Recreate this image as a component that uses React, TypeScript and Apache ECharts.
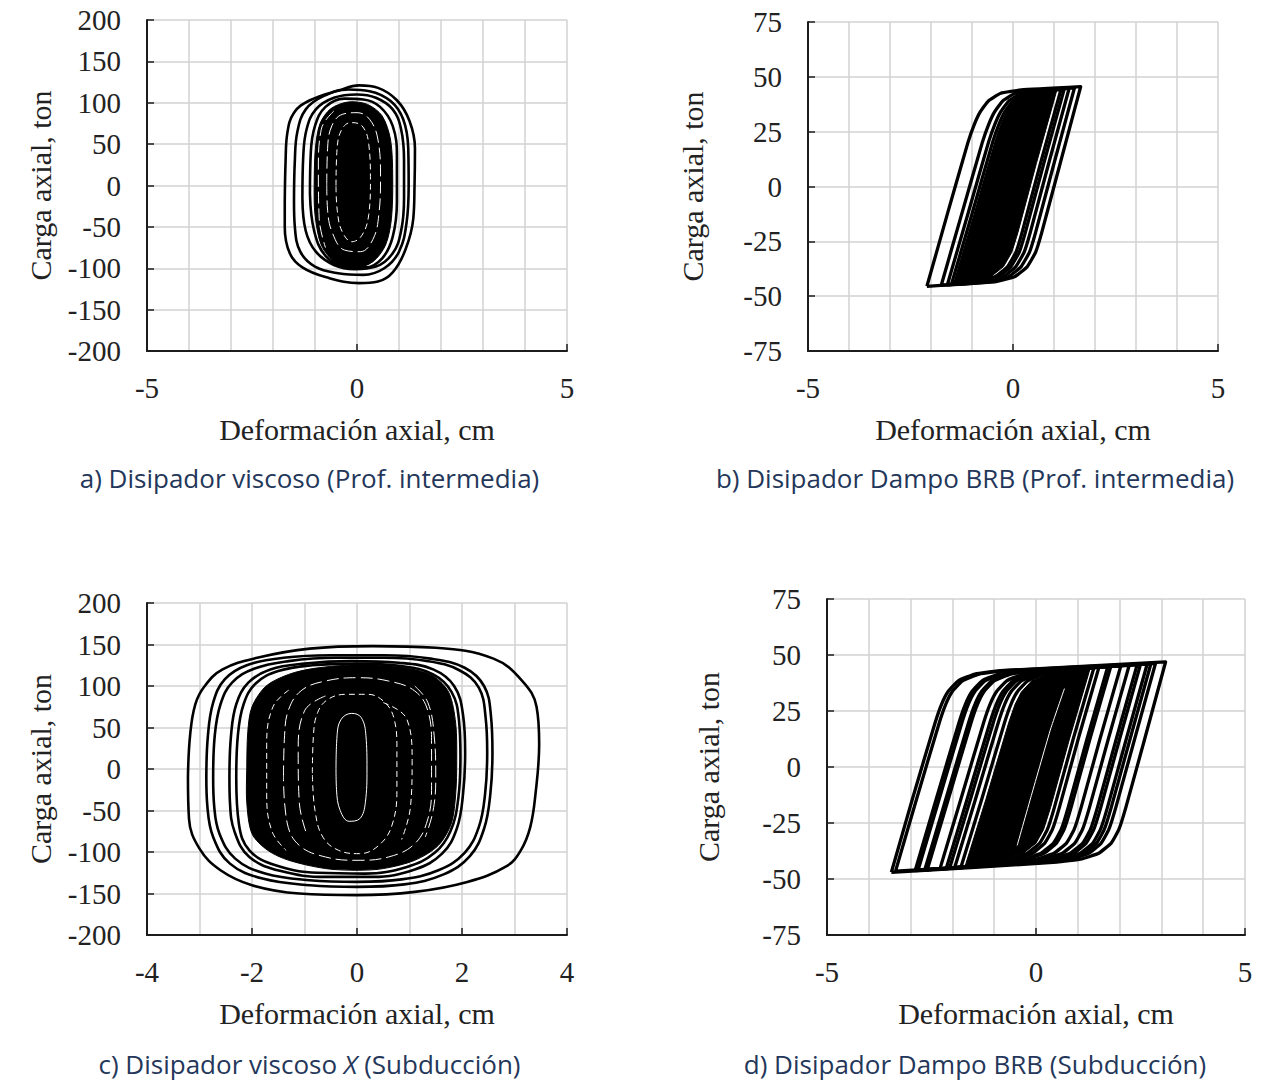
import React, { useEffect, useRef } from "react";
import * as echarts from "echarts";

// ---------- Panel a: Disipador viscoso (Prof. intermedia) ----------
const xTicksA = [-5, 0, 5];
const yTicksA = [-200, -150, -100, -50, 0, 50, 100, 150, 200];
const loopA1 = [[-1.72,-20],[-1.7,30],[-1.66,63],[-1.5,88],[-1.12,103],[-0.43,115],[0.05,121],[0.5,118],[0.95,103],[1.25,78],[1.38,45],[1.37,0],[1.34,-40],[1.15,-78],[0.85,-105],[0.5,-116],[0.05,-118],[-0.73,-111],[-1.3,-99],[-1.6,-82],[-1.72,-50],[-1.72,-20]];
const loopA2 = [[-1.5,-20],[-1.48,30],[-1.42,65],[-1.22,92],[-0.8,108],[-0.2,116],[0.3,114],[0.8,102],[1.1,80],[1.22,45],[1.23,0],[1.18,-45],[1.0,-80],[0.65,-100],[0.15,-108],[-0.45,-106],[-1.0,-98],[-1.35,-80],[-1.48,-50],[-1.5,-20]];
const loopA3 = [[-1.3,-15],[-1.28,35],[-1.2,68],[-0.98,92],[-0.55,106],[0.0,110],[0.45,106],[0.85,92],[1.05,68],[1.12,30],[1.12,-15],[1.05,-55],[0.85,-82],[0.45,-98],[-0.05,-101],[-0.55,-96],[-0.98,-80],[-1.22,-55],[-1.3,-15]];
const loopA4 = [[-1.12,-10],[-1.1,40],[-1.0,72],[-0.75,95],[-0.3,105],[0.15,104],[0.55,95],[0.85,72],[0.95,35],[0.95,-20],[0.85,-62],[0.6,-88],[0.2,-99],[-0.3,-98],[-0.75,-85],[-1.02,-55],[-1.12,-10]];
const coreA = [[-1.02,0],[-0.99,45],[-0.88,75],[-0.62,93],[-0.2,101],[0.25,98],[0.6,84],[0.8,55],[0.85,10],[0.82,-40],[0.68,-72],[0.38,-92],[-0.05,-100],[-0.5,-94],[-0.85,-72],[-1.0,-35]];
const whiteA1 = [[-0.72,0],[-0.7,45],[-0.6,72],[-0.35,86],[0.0,88],[0.3,80],[0.5,55],[0.56,10],[0.52,-35],[0.38,-65],[0.08,-80],[-0.3,-78],[-0.58,-58],[-0.7,-30],[-0.72,0]];
const whiteA2 = [[-0.5,0],[-0.48,40],[-0.38,66],[-0.15,76],[0.12,72],[0.28,50],[0.32,5],[0.28,-35],[0.12,-60],[-0.12,-68],[-0.36,-55],[-0.47,-30],[-0.5,0]];
const whiteA3 = [[-0.55,90],[-0.85,68],[-0.92,20],[-0.9,-40],[-0.75,-75]];

// ---------- Panel b: Disipador Dampo BRB (Prof. intermedia) ----------
const xTicksB = [-5, 0, 5];
const yTicksB = [-75, -50, -25, 0, 25, 50, 75];
const loopB1 = [[-2.1,-45.5],[-1.6,-12.5],[-1.1,20],[-0.95,28],[-0.8,34],[-0.6,39],[-0.3,42.5],[0.2,44],[1.65,45.5],[1.15,10.5],[0.7,-21],[0.55,-30],[0.35,-36.5],[0.05,-41],[-0.45,-43.5],[-2.1,-45.5]];
const loopB2 = [[-1.75,-45],[-1.25,-12.5],[-0.75,20],[-0.6,28],[-0.45,34],[-0.25,39],[0.05,42.5],[0.55,44],[1.5,45],[1.0,10.5],[0.55,-21],[0.4,-30],[0.2,-36.5],[-0.1,-41],[-0.6,-43.5],[-1.75,-45]];
const loopB3 = [[-1.6,-44.8],[-1.1,-12.5],[-0.6,20],[-0.45,28],[-0.3,34],[-0.1,39],[0.2,42.5],[0.7,44],[1.37,44.8],[0.87,10.5],[0.42,-21],[0.27,-30],[0.07,-36.5],[-0.23,-41],[-0.73,-43.5],[-1.6,-44.8]];
const loopB4 = [[-1.5,-44.5],[-1.0,-12.5],[-0.5,20],[-0.35,28],[-0.2,34],[0.0,39],[0.3,42.5],[0.8,44],[1.25,44.5],[0.75,10.5],[0.3,-21],[0.15,-30],[-0.05,-36.5],[-0.35,-41],[-0.85,-43.5],[-1.5,-44.5]];
const loopB5 = [[-1.42,-44.2],[-0.92,-12.5],[-0.42,20],[-0.27,28],[-0.12,34],[0.08,39],[0.38,42.5],[0.88,43.8],[1.17,44.2],[0.67,10.5],[0.22,-21],[0.07,-30],[-0.13,-36.5],[-0.43,-41],[-0.93,-43.5],[-1.42,-44.2]];
const coreB = [[-1.42,-44],[-0.92,-12.5],[-0.42,20],[-0.27,28],[-0.12,34],[0.08,39],[0.38,42.5],[1.07,44],[0.57,10.5],[0.12,-21],[-0.03,-30],[-0.23,-36.5],[-0.53,-41],[-1.03,-43.5]];

// ---------- Panel c: Disipador viscoso X (Subducción) ----------
const xTicksC = [-4, -2, 0, 2, 4];
const yTicksC = [-200, -150, -100, -50, 0, 50, 100, 150, 200];
const loopC1 = [[-3.22,-10],[-3.18,40],[-3.08,78],[-2.9,100],[-2.56,120],[-1.9,134],[-0.9,145],[0.3,148],[1.5,146],[2.6,133],[3.15,106],[3.42,75],[3.47,30],[3.4,-30],[3.3,-70],[3.12,-98],[2.85,-117],[2.1,-136],[1.1,-148],[0.0,-152],[-1.1,-150],[-2.0,-140],[-2.6,-122],[-3.0,-96],[-3.2,-60],[-3.22,-10]];
const loopC2 = [[-2.87,-10],[-2.84,40],[-2.74,80],[-2.52,108],[-2.1,125],[-1.4,134],[-0.5,137],[0.5,137],[1.4,133],[2.05,122],[2.42,100],[2.55,65],[2.58,20],[2.54,-30],[2.42,-72],[2.15,-105],[1.65,-127],[0.9,-139],[0.0,-142],[-0.9,-140],[-1.8,-132],[-2.42,-114],[-2.74,-82],[-2.85,-45],[-2.87,-10]];
const loopC3 = [[-2.74,-10],[-2.71,40],[-2.6,78],[-2.38,104],[-1.95,121],[-1.3,130],[-0.4,134],[0.5,134],[1.35,130],[1.95,119],[2.32,98],[2.45,62],[2.48,20],[2.44,-30],[2.32,-70],[2.05,-101],[1.55,-122],[0.85,-133],[0.0,-136],[-0.9,-134],[-1.75,-126],[-2.32,-108],[-2.62,-78],[-2.72,-45],[-2.74,-10]];
const loopC4 = [[-2.43,-10],[-2.4,40],[-2.3,78],[-2.07,104],[-1.65,120],[-1.0,127],[-0.1,130],[0.8,128],[1.45,120],[1.85,100],[2.02,65],[2.06,20],[2.02,-30],[1.9,-72],[1.62,-102],[1.1,-121],[0.3,-130],[-0.6,-130],[-1.45,-123],[-2.05,-106],[-2.33,-76],[-2.42,-40],[-2.43,-10]];
const loopC5 = [[-2.3,-10],[-2.27,40],[-2.16,78],[-1.93,103],[-1.5,118],[-0.85,125],[0.0,127],[0.85,124],[1.45,114],[1.8,93],[1.94,60],[1.97,15],[1.93,-35],[1.78,-75],[1.48,-101],[0.95,-118],[0.15,-126],[-0.75,-125],[-1.55,-116],[-2.05,-98],[-2.25,-66],[-2.3,-10]];
const coreC = [[-2.1,0],[-2.08,45],[-2.0,75],[-1.73,100],[-1.3,114],[-0.84,121],[-0.2,125],[0.43,125],[1.0,121],[1.45,112],[1.75,92],[1.88,55],[1.9,10],[1.88,-30],[1.8,-65],[1.55,-92],[1.1,-110],[0.5,-120],[0.0,-122],[-0.6,-120],[-1.3,-110],[-1.7,-98],[-2.0,-78],[-2.1,-40]];
const whiteC1 = [[-1.4,-10],[-1.38,40],[-1.3,72],[-1.05,95],[-0.6,106],[0.0,110],[0.6,106],[1.1,94],[1.35,70],[1.42,30],[1.42,-20],[1.35,-60],[1.1,-90],[0.6,-106],[0.0,-110],[-0.6,-106],[-1.1,-92],[-1.33,-65],[-1.4,-10]];
const whiteC2 = [[-0.85,-5],[-0.83,40],[-0.75,68],[-0.55,84],[-0.2,90],[0.2,90],[0.5,82],[0.7,62],[0.76,25],[0.76,-25],[0.68,-65],[0.45,-90],[0.05,-102],[-0.35,-98],[-0.65,-82],[-0.8,-50],[-0.85,-5]];
const whiteC3 = [[-0.4,0],[-0.38,40],[-0.3,60],[-0.1,67],[0.08,62],[0.17,40],[0.19,0],[0.16,-40],[0.05,-60],[-0.15,-63],[-0.32,-50],[-0.39,-25],[-0.4,0]];
const whiteC4 = [[-1.3,95],[-1.6,75],[-1.72,30],[-1.72,-30],[-1.62,-75],[-1.35,-98]];
const whiteC5 = [[1.1,100],[1.35,80],[1.47,40],[1.5,-10],[1.45,-50],[1.3,-82]];
const whiteC6 = [[-0.6,88],[-1.0,70],[-1.12,20],[-1.1,-40],[-0.95,-80]];
const whiteC7 = [[0.5,80],[0.95,60],[1.05,10],[1.02,-45],[0.85,-85]];

// ---------- Panel d: Disipador Dampo BRB (Subducción) ----------
const xTicksD = [-5, 0, 5];
const yTicksD = [-75, -50, -25, 0, 25, 50, 75];
const loopD1 = [[-3.46,-47],[-2.96,-14.5],[-2.41,20],[-2.26,28],[-2.11,33.5],[-1.86,38.5],[-1.46,41.5],[-0.86,43],[3.1,46.9],[2.6,12.5],[2.15,-18],[1.98,-28],[1.8,-34],[1.5,-38.5],[1.1,-41],[0.5,-42.5],[-3.46,-47]];
const loopD2 = [[-3.36,-46.5],[-2.86,-14.5],[-2.31,20],[-2.16,28],[-2.01,33.5],[-1.76,38.5],[-1.36,41.5],[-0.76,43],[2.86,46.3],[2.36,12.5],[1.91,-18],[1.74,-28],[1.56,-34],[1.26,-38.5],[0.86,-41],[0.26,-42.5],[-3.36,-46.5]];
const loopD3 = [[-2.82,-46],[-2.32,-14.5],[-1.77,20],[-1.62,28],[-1.47,33.5],[-1.22,38.5],[-0.82,41.5],[-0.22,43],[2.66,46],[2.16,12.5],[1.71,-18],[1.54,-28],[1.36,-34],[1.06,-38.5],[0.66,-41],[0.06,-42.5],[-2.82,-46]];
const loopD4 = [[-2.6,-45.8],[-2.1,-14.5],[-1.55,20],[-1.4,28],[-1.25,33.5],[-1.0,38.5],[-0.6,41.5],[0.0,43],[2.42,45.7],[1.92,12.5],[1.47,-18],[1.3,-28],[1.12,-34],[0.82,-38.5],[0.42,-41],[-0.18,-42.5],[-2.6,-45.8]];
const loopD5 = [[-2.3,-45.6],[-1.8,-14.5],[-1.25,20],[-1.1,28],[-0.95,33.5],[-0.7,38.5],[-0.3,41.5],[0.3,43],[2.23,45.4],[1.73,12.5],[1.28,-18],[1.11,-28],[0.93,-34],[0.63,-38.5],[0.23,-41],[-0.37,-42.5],[-2.3,-45.6]];
const loopD6 = [[-2.15,-45.4],[-1.65,-14.5],[-1.1,20],[-0.95,28],[-0.8,33.5],[-0.55,38.5],[-0.15,41.5],[0.45,43],[2.03,45.2],[1.53,12.5],[1.08,-18],[0.91,-28],[0.73,-34],[0.43,-38.5],[0.03,-41],[-0.57,-42.5],[-2.15,-45.4]];
const loopD7 = [[-1.95,-45.2],[-1.45,-14.5],[-0.9,20],[-0.75,28],[-0.6,33.5],[-0.35,38.5],[0.05,41.5],[0.65,43],[1.79,45],[1.29,12.5],[0.84,-18],[0.67,-28],[0.49,-34],[0.19,-38.5],[-0.21,-41],[-0.81,-42.5],[-1.95,-45.2]];
const loopD8 = [[-1.8,-45],[-1.3,-14.5],[-0.75,20],[-0.6,28],[-0.45,33.5],[-0.2,38.5],[0.2,41.5],[0.8,43],[1.51,44.8],[1.01,12.5],[0.56,-18],[0.39,-28],[0.21,-34],[-0.09,-38.5],[-0.49,-41],[-1.09,-42.5],[-1.8,-45]];
const loopD9 = [[-1.55,-44.8],[-1.05,-14.5],[-0.5,20],[-0.35,28],[-0.2,33.5],[0.05,38.5],[0.45,41.5],[1.05,43],[1.39,44.6],[0.89,12.5],[0.44,-18],[0.27,-28],[0.09,-34],[-0.21,-38.5],[-0.61,-41],[-1.21,-42.5],[-1.55,-44.8]];
const loopD10 = [[-2.66,-45.9],[-2.16,-14.5],[-1.61,20],[-1.46,28],[-1.31,33.5],[-1.06,38.5],[-0.66,41.5],[-0.06,43],[2.5,45.8],[2.0,12.5],[1.55,-18],[1.38,-28],[1.2,-34],[0.9,-38.5],[0.5,-41],[-0.1,-42.5],[-2.66,-45.9]];
const loopD11 = [[-2.07,-45.3],[-1.57,-14.5],[-1.02,20],[-0.87,28],[-0.72,33.5],[-0.47,38.5],[-0.07,41.5],[0.53,43],[1.72,45],[1.22,12.5],[0.77,-18],[0.6,-28],[0.42,-34],[0.12,-38.5],[-0.28,-41],[-0.88,-42.5],[-2.07,-45.3]];
const loopD12 = [[-2.89,-46.2],[-2.39,-14.5],[-1.84,20],[-1.69,28],[-1.54,33.5],[-1.29,38.5],[-0.89,41.5],[-0.29,43],[2.75,46.2],[2.25,12.5],[1.8,-18],[1.63,-28],[1.45,-34],[1.15,-38.5],[0.75,-41],[0.15,-42.5],[-2.89,-46.2]];
const coreD = [[-1.7,-44.5],[-1.2,-14.5],[-0.65,20],[-0.5,28],[-0.35,33.5],[-0.1,38.5],[0.3,41.5],[0.9,43],[1.3,44.3],[0.8,12.5],[0.35,-18],[0.18,-28],[0.0,-34],[-0.3,-38.5],[-0.7,-41],[-1.3,-42.5]];
const whiteD1 = [[-0.45,-35],[-0.1,-12],[0.35,17],[0.68,35]];

// ---------- Texts ----------
const X_NAME = "Deformación axial, cm";
const Y_NAME = "Carga axial, ton";
const captionA = "a) Disipador viscoso (Prof. intermedia)";
const captionB = "b) Disipador Dampo BRB (Prof. intermedia)";
const captionC = ["c) Disipador viscoso ", "X", " (Subducción)"];
const captionD = "d) Disipador Dampo BRB (Subducción)";

const SERIF = "Liberation Serif";
const SANS = "Open Sans";
const GRID_COLOR = "#d2d2d2";
const AXIS_COLOR = "#1c1c1c";
const TEXT_COLOR = "#222222";
const CAPTION_COLOR = "#24375a";

const dashA = [12, 5];
const dashB = [6, 4];

const panels = [
  { box: [147, 20, 420, 331], xTicks: xTicksA, yTicks: yTicksA, xStep: 1, yNameGap: 92, smooth: 0.4, lw: 2.6,
    cores: [coreA], whites: [[whiteA1, dashA], [whiteA2, dashB], [whiteA3, dashA]], loops: [loopA1, loopA2, loopA3, loopA4] },
  { box: [808, 22, 410, 329], xTicks: xTicksB, yTicks: yTicksB, xStep: 1, yNameGap: 101, smooth: 0.12, lw: 3.3,
    cores: [coreB], whites: [], loops: [loopB1, loopB2, loopB3, loopB4, loopB5] },
  { box: [147, 603, 420, 332], xTicks: xTicksC, yTicks: yTicksC, xStep: 1, yNameGap: 92, smooth: 0.4, lw: 2.6,
    cores: [coreC], whites: [[whiteC1, dashA], [whiteC2, dashB], [whiteC3, "solid"], [whiteC4, dashB], [whiteC5, dashA], [whiteC6, dashA], [whiteC7, dashB]],
    loops: [loopC1, loopC2, loopC3, loopC4, loopC5] },
  { box: [827, 599, 418, 336], xTicks: xTicksD, yTicks: yTicksD, xStep: 1, yNameGap: 104, smooth: 0.12, lw: 3.3,
    cores: [coreD], whites: [[whiteD1, "solid"]],
    loops: [loopD1, loopD2, loopD12, loopD3, loopD10, loopD4, loopD5, loopD6, loopD11, loopD7, loopD8, loopD9] },
];

const captionPos = [[309.5, 478], [975, 478], [309.5, 1064], [975, 1064]];

export default function App() {
  const ref = useRef<HTMLDivElement>(null);
  useEffect(() => {
    const chart = echarts.init(ref.current as HTMLDivElement, null, { renderer: "svg" });
    const grid: any[] = [];
    const xAxis: any[] = [];
    const yAxis: any[] = [];
    const series: any[] = [];
    panels.forEach((p, i) => {
      grid.push({ left: p.box[0], top: p.box[1], width: p.box[2], height: p.box[3], containLabel: false, outerBoundsMode: "none" });
      const xMin = p.xTicks[0];
      const xMax = p.xTicks[p.xTicks.length - 1];
      const yMin = p.yTicks[0];
      const yMax = p.yTicks[p.yTicks.length - 1];
      xAxis.push({
        type: "value", gridIndex: i, position: "top", min: xMin, max: xMax, interval: p.xStep,
        axisLine: { show: false }, axisTick: { show: false }, axisLabel: { show: false },
        splitLine: { show: true, lineStyle: { color: GRID_COLOR, width: 1.5 } },
      });
      xAxis.push({
        type: "value", gridIndex: i, position: "bottom", min: xMin, max: xMax, interval: p.xTicks[1] - p.xTicks[0],
        splitLine: { show: false },
        axisLine: { show: true, onZero: false, lineStyle: { color: AXIS_COLOR, width: 2 } },
        axisTick: { show: true, inside: true, length: 7, lineStyle: { color: AXIS_COLOR, width: 1.5 } },
        axisLabel: { show: true, margin: 22, color: TEXT_COLOR, fontFamily: SERIF, fontSize: 29, showMinLabel: true, showMaxLabel: true },
        name: X_NAME, nameLocation: "middle", nameGap: 63, nameMoveOverlap: false,
        nameTextStyle: { color: TEXT_COLOR, fontFamily: SERIF, fontSize: 30 },
      });
      yAxis.push({
        type: "value", gridIndex: i, min: yMin, max: yMax, interval: p.yTicks[1] - p.yTicks[0],
        splitLine: { show: true, lineStyle: { color: GRID_COLOR, width: 1.5 } },
        axisLine: { show: true, onZero: false, lineStyle: { color: AXIS_COLOR, width: 2 } },
        axisTick: { show: true, inside: true, length: 7, lineStyle: { color: AXIS_COLOR, width: 1.5 } },
        axisLabel: { show: true, margin: 26, color: TEXT_COLOR, fontFamily: SERIF, fontSize: 29, showMinLabel: true, showMaxLabel: true },
        name: Y_NAME, nameLocation: "middle", nameGap: p.yNameGap, nameRotate: 90, nameMoveOverlap: false,
        nameTextStyle: { color: TEXT_COLOR, fontFamily: SERIF, fontSize: 30 },
      });
      const xi = 2 * i + 1;
      p.cores.forEach((core) => {
        series.push({
          type: "custom", xAxisIndex: xi, yAxisIndex: i, data: core, silent: true, z: 2,
          renderItem: (params: any, api: any) => {
            if (params.dataIndex !== 0) return null;
            return {
              type: "polygon",
              shape: { points: core.map((pt) => api.coord(pt)), smooth: p.smooth >= 0.3 ? 0.3 : 0 },
              style: { fill: "#000000", stroke: "#000000", lineWidth: 1 },
            };
          },
        });
      });
      p.whites.forEach((w: any) => {
        series.push({
          type: "line", xAxisIndex: xi, yAxisIndex: i, data: w[0], symbol: "none", showSymbol: false,
          smooth: p.smooth, silent: true, z: 3,
          lineStyle: { color: "#ffffff", width: 1.0, type: w[1] },
        });
      });
      p.loops.forEach((l) => {
        series.push({
          type: "line", xAxisIndex: xi, yAxisIndex: i, data: l, symbol: "none", showSymbol: false,
          smooth: p.smooth, silent: true, z: 4,
          lineStyle: { color: "#000000", width: p.lw, join: "round" },
        });
      });
    });

    const capStyle = { fontFamily: SANS, fontSize: 26, fill: CAPTION_COLOR };
    const graphic: any[] = [
      { type: "text", x: captionPos[0][0], y: captionPos[0][1], style: { ...capStyle, text: captionA, textAlign: "center", textVerticalAlign: "middle" } },
      { type: "text", x: captionPos[1][0], y: captionPos[1][1], style: { ...capStyle, text: captionB, textAlign: "center", textVerticalAlign: "middle" } },
      {
        type: "text", x: captionPos[2][0], y: captionPos[2][1],
        style: {
          ...capStyle, textAlign: "center", textVerticalAlign: "middle",
          text: `{n|${captionC[0]}}{i|${captionC[1]}}{n|${captionC[2]}}`,
          rich: {
            n: { fontFamily: SANS, fontSize: 26, fill: CAPTION_COLOR, color: CAPTION_COLOR },
            i: { fontFamily: SANS, fontSize: 26, fontStyle: "italic", fill: CAPTION_COLOR, color: CAPTION_COLOR },
          },
        },
      },
      { type: "text", x: captionPos[3][0], y: captionPos[3][1], style: { ...capStyle, text: captionD, textAlign: "center", textVerticalAlign: "middle" } },
    ];

    chart.setOption({
      animation: false,
      backgroundColor: "#ffffff",
      grid, xAxis, yAxis, series, graphic,
    });
    return () => chart.dispose();
  }, []);
  return <div ref={ref} style={{ position: "absolute", left: 0, top: 0, width: 1284, height: 1082 }} />;
}
